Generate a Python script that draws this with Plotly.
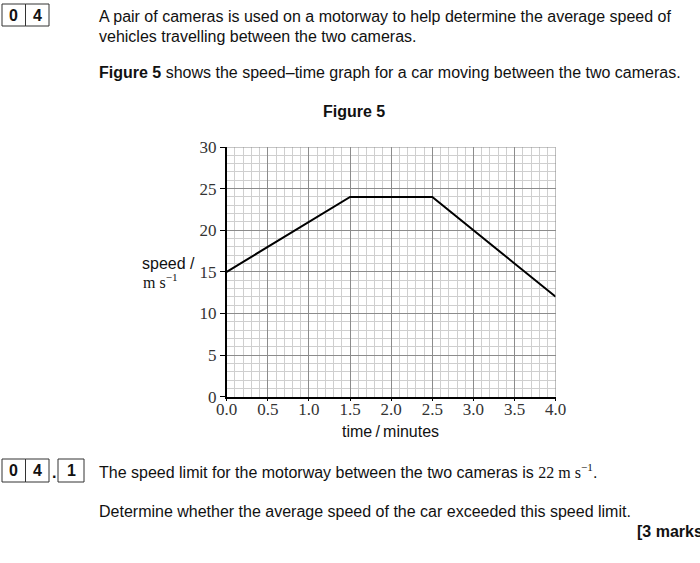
import plotly.graph_objects as go

# data
time_min = [0.0, 1.5, 2.5, 4.0]
speed = [15, 24, 24, 12]
x_ticks = [0.0, 0.5, 1.0, 1.5, 2.0, 2.5, 3.0, 3.5, 4.0]
x_tick_labels = ["0.0", "0.5", "1.0", "1.5", "2.0", "2.5", "3.0", "3.5", "4.0"]
y_ticks = [0, 5, 10, 15, 20, 25, 30]

W, H = 700, 563
def px(x): return x / W
def py(y): return 1 - y / H

SANS = "Liberation Sans, Arial, sans-serif"
SERIF = "Liberation Serif, Times New Roman, serif"

fig = go.Figure()
fig.add_trace(go.Scatter(x=time_min, y=speed, mode="lines",
                         line=dict(color="black", width=2), showlegend=False,
                         hoverinfo="skip"))

x0, x1, y0, y1 = 226.7, 555.7, 147.0, 396.7
fig.update_layout(
    width=W, height=H, margin=dict(l=0, r=0, t=0, b=0, autoexpand=False),
    paper_bgcolor="white", plot_bgcolor="white", showlegend=False,
    xaxis=dict(domain=[px(x0), px(x1)], range=[0, 4], tickvals=x_ticks,
               ticktext=x_tick_labels, automargin=False,
               showgrid=True, gridcolor="#8c8c8c", gridwidth=1,
               minor=dict(dtick=0.1, showgrid=True, gridcolor="#cfcfcf", gridwidth=1),
               showline=True, linecolor="black", linewidth=1.5,
               ticks="outside", ticklen=3, tickcolor="black",
               ticklabelstandoff=-7,
               tickfont=dict(family=SERIF, size=17, color="#333"),
               zeroline=False, fixedrange=True),
    yaxis=dict(domain=[py(y1), py(y0)], range=[0, 30], tickvals=y_ticks,
               automargin=False,
               showgrid=True, gridcolor="#8c8c8c", gridwidth=1,
               minor=dict(dtick=1, showgrid=True, gridcolor="#cfcfcf", gridwidth=1),
               showline=True, linecolor="black", linewidth=1.5,
               ticks="outside", ticklen=5, tickcolor="black",
               tickfont=dict(family=SERIF, size=17, color="#333"),
               zeroline=False, fixedrange=True),
)

# grey border at top/right
fig.add_shape(type="line", xref="x", yref="y", x0=0, x1=4, y0=30, y1=30,
              line=dict(color="#8c8c8c", width=1))
fig.add_shape(type="line", xref="x", yref="y", x0=4, x1=4, y0=0, y1=30,
              line=dict(color="#8c8c8c", width=1))

def ann(text, x, y, size=16, family=SANS, xanchor="left", bold=False, color="#111"):
    if bold:
        text = f"<b>{text}</b>"
    fig.add_annotation(text=text, x=px(x), y=py(y), xref="paper", yref="paper",
                       xanchor=xanchor, yanchor="middle", showarrow=False,
                       borderpad=0, font=dict(family=family, size=size, color=color))

def box(xa, xb, ya, yb):
    fig.add_shape(type="rect", xref="paper", yref="paper",
                  x0=px(xa), x1=px(xb), y0=py(yb), y1=py(ya),
                  line=dict(color="#333", width=1))

# question number boxes
box(2, 25.5, 4, 26)
box(25.5, 49, 4, 26)
ann("0", 13.7, 15.5, xanchor="center", bold=True)
ann("4", 37.2, 15.5, xanchor="center", bold=True)

ann("A pair of cameras is used on a motorway to help determine the average speed of", 98, 17)
ann("vehicles travelling between the two cameras.", 98, 36)
ann("<b>Figure 5</b> shows the speed–time graph for a car moving between the two cameras.", 98, 73)
ann("Figure 5", 354, 111, xanchor="center", bold=True)

ann("speed /", 141, 263)
ann("m s<sup>−1</sup>", 142, 281, family=SERIF, size=16)
ann("time\u2009/\u2009minutes", 390, 431, xanchor="center")

box(2, 25.5, 459, 482)
box(25.5, 49, 459, 482)
box(58, 84, 459, 482)
ann("0", 13.7, 470.5, xanchor="center", bold=True)
ann("4", 37.2, 470.5, xanchor="center", bold=True)
ann(".", 53.5, 472, xanchor="center", bold=True)
ann("1", 71, 470.5, xanchor="center", bold=True)

ann("The speed limit for the motorway between the two cameras is "
    "<span style='font-family:Liberation Serif'>22 m s<sup>−1</sup></span>.", 98, 471)
ann("Determine whether the average speed of the car exceeded this speed limit.", 98, 511)
ann("[3 marks]", 636, 531, bold=True)

fig.write_html("out.html")
